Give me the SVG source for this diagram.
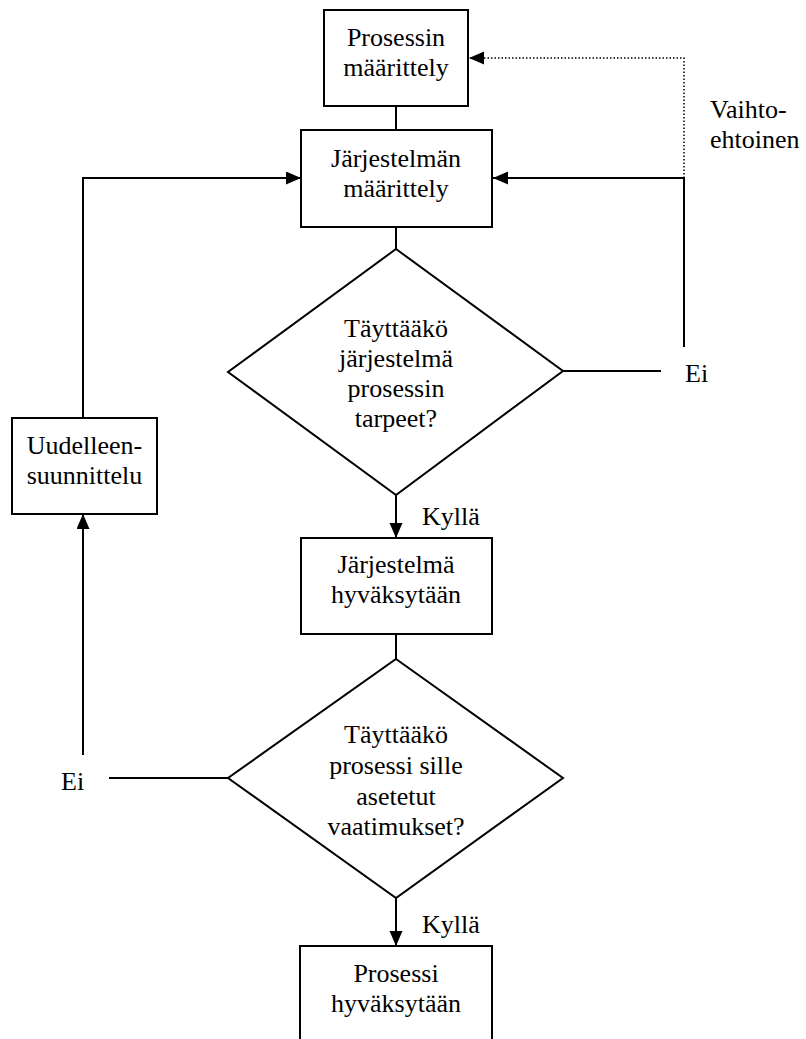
<svg xmlns="http://www.w3.org/2000/svg" width="806" height="1039" viewBox="0 0 806 1039">
<style>
.box{fill:#fff;stroke:#000;stroke-width:2}
.ln{fill:none;stroke:#000;stroke-width:2}
.dot{fill:none;stroke:#000;stroke-width:1.5;stroke-dasharray:1.5 2}
</style>
<defs>
<marker id="ah" markerUnits="userSpaceOnUse" markerWidth="16" markerHeight="14" refX="15" refY="6.5" orient="auto">
<path d="M0,0 L15,6.5 L0,13 z" fill="#000"/>
</marker>
</defs>
<rect width="806" height="1039" fill="#fff"/>
<g id="connectors">
<line class="ln" x1="396" y1="106" x2="396" y2="130"/>
<line class="ln" x1="396" y1="227" x2="396" y2="249"/>
<line class="ln" x1="396" y1="495" x2="396" y2="538" marker-end="url(#ah)"/>
<line class="ln" x1="396" y1="634" x2="396" y2="659"/>
<line class="ln" x1="396" y1="898" x2="396" y2="946" marker-end="url(#ah)"/>
<line class="ln" x1="563" y1="371" x2="661" y2="371"/>
<polyline class="ln" points="684,347 684,178 493,178" marker-end="url(#ah)"/>
<polyline class="dot" points="684,178 684,58 469,58" marker-end="url(#ah)"/>
<line class="ln" x1="228" y1="778" x2="109" y2="778"/>
<line class="ln" x1="83" y1="755" x2="83" y2="514" marker-end="url(#ah)"/>
<polyline class="ln" points="83,418 83,178 301,178" marker-end="url(#ah)"/>
</g>
<g font-family="Liberation Serif, Times New Roman, serif" font-size="26" fill="#000">
<g id="n-prosessin-maarittely" text-anchor="middle">
<rect class="box" x="324" y="10" width="144" height="96"/>
<text x="396" y="46">Prosessin</text>
<text x="396" y="76">määrittely</text>
</g>
<g id="n-jarjestelman-maarittely" text-anchor="middle">
<rect class="box" x="301" y="130" width="191" height="97"/>
<text x="396" y="167">Järjestelmän</text>
<text x="396" y="197">määrittely</text>
</g>
<g id="n-decision1" text-anchor="middle">
<polygon class="box" points="396,249 563,371 396,495 228,372"/>
<text x="396" y="337">Täyttääkö</text>
<text x="396" y="367">järjestelmä</text>
<text x="396" y="397">prosessin</text>
<text x="396" y="427">tarpeet?</text>
</g>
<g id="n-jarjestelma-hyvaksytaan" text-anchor="middle">
<rect class="box" x="301" y="538" width="191" height="96"/>
<text x="396" y="573">Järjestelmä</text>
<text x="396" y="603">hyväksytään</text>
</g>
<g id="n-decision2" text-anchor="middle">
<polygon class="box" points="396,659 563,778 396,898 228,778"/>
<text x="396" y="743">Täyttääkö</text>
<text x="396" y="774">prosessi sille</text>
<text x="396" y="805">asetetut</text>
<text x="396" y="835">vaatimukset?</text>
</g>
<g id="n-prosessi-hyvaksytaan" text-anchor="middle">
<rect class="box" x="300" y="946" width="192" height="120"/>
<text x="396" y="982">Prosessi</text>
<text x="396" y="1012">hyväksytään</text>
</g>
<g id="n-uudelleensuunnittelu" text-anchor="middle">
<rect class="box" x="12" y="418" width="145" height="96"/>
<text x="84.5" y="454">Uudelleen-</text>
<text x="84.5" y="484">suunnittelu</text>
</g>
<g id="labels">
<text x="422" y="525">Kyllä</text>
<text x="422" y="933">Kyllä</text>
<text x="685" y="382">Ei</text>
<text x="61" y="790">Ei</text>
<text x="710" y="118">Vaihto-</text>
<text x="710" y="148">ehtoinen</text>
</g>
</g>
</svg>
